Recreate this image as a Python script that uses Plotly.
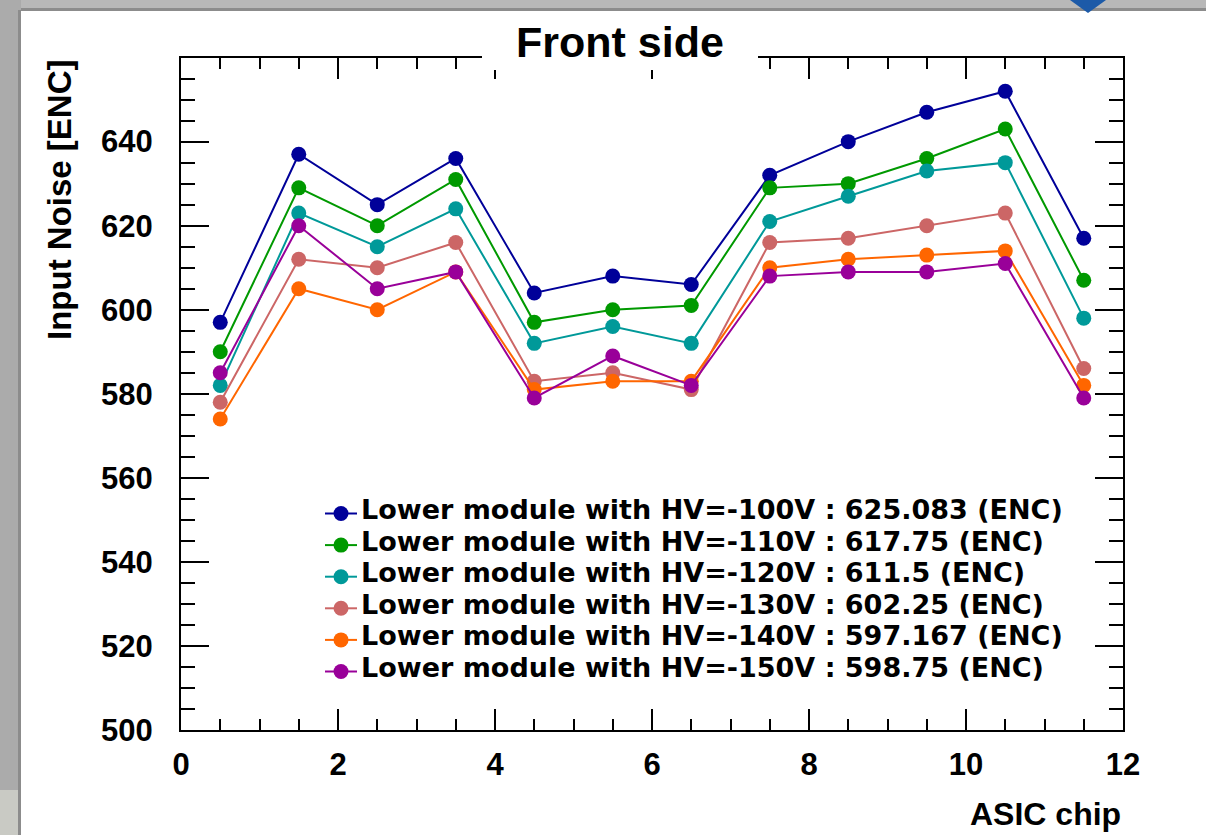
import plotly.graph_objects as go

# ---------------- data ----------------
chips = [0.5, 1.5, 2.5, 3.5, 4.5, 5.5, 6.5, 7.5, 8.5, 9.5, 10.5, 11.5]
hv_labels = ["-100V", "-110V", "-120V", "-130V", "-140V", "-150V"]
noise_100 = [597, 637, 625, 636, 604, 608, 606, 632, 640, 647, 652, 617]
noise_110 = [590, 629, 620, 631, 597, 600, 601, 629, 630, 636, 643, 607]
noise_120 = [582, 623, 615, 624, 592, 596, 592, 621, 627, 633, 635, 598]
noise_130 = [578, 612, 610, 616, 583, 585, 581, 616, 617, 620, 623, 586]
noise_140 = [574, 605, 600, 609, 581, 583, 583, 610, 612, 613, 614, 582]
noise_150 = [585, 620, 605, 609, 579, 589, 582, 608, 609, 609, 611, 579]
series = [noise_100, noise_110, noise_120, noise_130, noise_140, noise_150]
colors = ["#000099", "#009900", "#009999", "#cc6666", "#ff6600", "#990099"]

# ---------------- geometry helpers (pixel -> paper) ----------------
W, H = 1206, 835
L, R, T, B = 181, 1123, 58, 730


def px(p):
    return (p - L) / (R - L)


def py(p):
    return (B - p) / (B - T)


AX_FONT = "Liberation Sans, Arial, sans-serif"
LEG_FONT = "DejaVu Sans, sans-serif"

fig = go.Figure()
for vals, col in zip(series, colors):
    fig.add_trace(go.Scatter(
        x=chips, y=vals, mode="lines+markers",
        line=dict(color=col, width=2),
        marker=dict(size=15, color=col, line=dict(width=0)),
        showlegend=False, hoverinfo="x+y",
    ))

shapes = []
annotations = []

# screenshot frame decoration
shapes.append(dict(type="rect", xref="paper", yref="paper", layer="below",
                   x0=px(0), x1=px(W), y0=py(0), y1=py(10),
                   fillcolor="#b8b8b8", line=dict(width=0)))
shapes.append(dict(type="rect", xref="paper", yref="paper", layer="below",
                   x0=px(0), x1=px(21), y0=py(0), y1=py(H),
                   fillcolor="#ababab", line=dict(width=0)))
shapes.append(dict(type="rect", xref="paper", yref="paper", layer="below",
                   x0=px(18), x1=px(21), y0=py(10), y1=py(H),
                   fillcolor="#8c8c8c", line=dict(width=0)))
shapes.append(dict(type="rect", xref="paper", yref="paper", layer="below",
                   x0=px(21), x1=px(W), y0=py(8), y1=py(11),
                   fillcolor="#8c8c8c", line=dict(width=0)))
shapes.append(dict(type="rect", xref="paper", yref="paper", layer="below",
                   x0=px(0), x1=px(18), y0=py(790), y1=py(H),
                   fillcolor="#c9cac4", line=dict(width=0)))
shapes.append(dict(type="path", xref="paper", yref="paper", layer="below",
                   path=f"M {px(1070)},{py(0)} L {px(1106)},{py(0)} L {px(1088)},{py(13)} Z",
                   fillcolor="#1c5aa8", line=dict(width=0)))

# white box behind the title (as in ROOT)
shapes.append(dict(type="rect", xref="paper", yref="paper", layer="above",
                   x0=px(482), x1=px(758), y0=py(70), y1=py(14),
                   fillcolor="white", line=dict(width=0)))

annotations.append(dict(text="<b>Front side</b>", x=px(619.5), y=py(42.5),
                        xref="paper", yref="paper", xanchor="center", yanchor="middle",
                        showarrow=False, font=dict(family=AX_FONT, size=43, color="black")))
annotations.append(dict(text="<b>Input Noise [ENC]</b>", textangle=-90,
                        x=px(59), y=py(58), xref="paper", yref="paper",
                        xanchor="center", yanchor="top", showarrow=False,
                        font=dict(family=AX_FONT, size=33, color="black")))
annotations.append(dict(text="<b>ASIC chip</b>", x=px(1123), y=py(814),
                        xref="paper", yref="paper", xanchor="right", yanchor="middle",
                        showarrow=False, font=dict(family=AX_FONT, size=32, color="black")))

# legend (drawn as ROOT TLegend)
leg_center, row_step = 592.5, 31.6
n = len(series)
for i, (vals, col, hv) in enumerate(zip(series, colors, hv_labels)):
    yc = leg_center + (i - (n - 1) / 2) * row_step
    mean = sum(vals) / len(vals)
    label = f"Lower module with HV={hv} : {round(mean, 3):g} (ENC)"
    shapes.append(dict(type="line", xref="paper", yref="paper", layer="above",
                       x0=px(325), x1=px(357), y0=py(yc), y1=py(yc),
                       line=dict(color=col, width=2)))
    shapes.append(dict(type="circle", xref="paper", yref="paper", layer="above",
                       x0=px(341 - 7.5), x1=px(341 + 7.5), y0=py(yc - 7.5), y1=py(yc + 7.5),
                       fillcolor=col, line=dict(width=0)))
    annotations.append(dict(text=f"<b>{label}</b>", x=px(360), y=py(yc - 4),
                            xref="paper", yref="paper", xanchor="left", yanchor="middle",
                            borderpad=0, showarrow=False,
                            font=dict(family=LEG_FONT, size=27, color="black")))

axis_common = dict(
    ticks="inside", tickwidth=2, tickcolor="black",
    showline=True, linewidth=2, linecolor="black", mirror="allticks",
    showgrid=False, zeroline=False,
    tickfont=dict(family=AX_FONT, size=31, color="black", weight="bold"),
)

fig.update_layout(
    width=W, height=H,
    margin=dict(l=L, r=W - R, t=T, b=H - B, pad=0),
    paper_bgcolor="white", plot_bgcolor="white",
    showlegend=False,
    xaxis=dict(range=[0, 12], tick0=0, dtick=2, ticklen=21,
               minor=dict(dtick=0.5, tick0=0, ticks="inside", ticklen=11,
                          tickwidth=2, tickcolor="black", showgrid=False),
               ticklabelstandoff=6, **axis_common),
    yaxis=dict(range=[500, 659.9], tick0=500, dtick=20, ticklen=28,
               minor=dict(dtick=5, tick0=500, ticks="inside", ticklen=14,
                          tickwidth=2, tickcolor="black", showgrid=False),
               ticklabelstandoff=20, **axis_common),
    shapes=shapes,
    annotations=annotations,
)

fig.write_html("out.html")
